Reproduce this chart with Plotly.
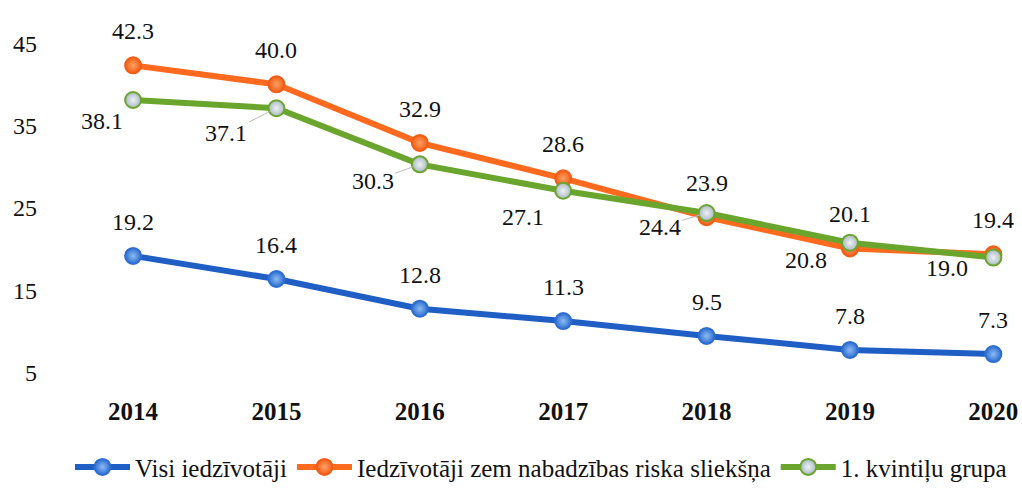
import plotly.graph_objects as go

# Data
years = [2014, 2015, 2016, 2017, 2018, 2019, 2020]
visi = [19.2, 16.4, 12.8, 11.3, 9.5, 7.8, 7.3]
zem_slieksna = [42.3, 40.0, 32.9, 28.6, 23.9, 20.1, 19.4]
kvintile_1 = [38.1, 37.1, 30.3, 27.1, 24.4, 20.8, 19.0]
y_ticks = [5, 15, 25, 35, 45]

names = ["Visi iedzīvotāji",
         "Iedzīvotāji zem nabadzības riska sliekšņa",
         "1. kvintiļu grupa"]

# Label offsets (pixels) for the green series, which sits below/left of its points
green_dx = [-31, -50, -47, -40, -47, -44, -46]
green_dy = [21, 25, 17, 26, 14, 17, 10]
green_leader = [False, True, True, False, True, False, False]

FONT = "Liberation Serif"

fig = go.Figure()

styles = [
    dict(line="#1F5EC4", mk="#2E6ED0", grad="#8CBBF2", edge="#2E6ED0"),
    dict(line="#FF6A1F", mk="#F25E16", grad="#FFA066", edge="#F25E16"),
    dict(line="#6AA52E", mk="#A9B8C2", grad="#EEF2F4", edge="#6AA52E"),
]

for vals, name, st in zip([visi, zem_slieksna, kvintile_1], names, styles):
    fig.add_trace(go.Scatter(
        x=years, y=vals, name=name, mode="lines+markers",
        line=dict(color=st["line"], width=6),
        marker=dict(size=16, color=st["mk"],
                    gradient=dict(type="radial", color=st["grad"]),
                    line=dict(color=st["edge"], width=2)),
        hoverinfo="skip",
    ))

label_font = dict(family=FONT, size=24, color="#111111")

annotations = []
for series in (visi, zem_slieksna):
    for x, v in zip(years, series):
        annotations.append(dict(
            x=x, y=v, text=f"{v:.1f}", showarrow=False, yshift=34,
            font=label_font))

for x, v, dx, dy, lead in zip(years, kvintile_1, green_dx, green_dy, green_leader):
    if lead:
        annotations.append(dict(
            x=x, y=v, text=f"{v:.1f}", showarrow=True, ax=dx, ay=dy,
            arrowhead=0, arrowwidth=1, arrowcolor="#BBBBBB", standoff=7,
            font=label_font))
    else:
        annotations.append(dict(
            x=x, y=v, text=f"{v:.1f}", showarrow=False, xshift=dx, yshift=-dy,
            font=label_font))

fig.update_layout(
    width=1022, height=490,
    margin=dict(l=70, r=10, t=20, b=105, autoexpand=False),
    paper_bgcolor="white", plot_bgcolor="white",
    xaxis=dict(
        range=[2013.56, 2020.13], tickvals=years,
        ticktext=[f"<b>{y}</b>" for y in years],
        tickfont=dict(family=FONT, size=25, color="#111111"),
        showgrid=False, zeroline=False, showline=False, ticks="",
        ticklabelstandoff=9, automargin=False,
    ),
    yaxis=dict(
        range=[3.55, 47.8], tickvals=y_ticks,
        tickfont=dict(family=FONT, size=24, color="#111111"),
        showgrid=False, zeroline=False, showline=False, ticks="",
        ticklabelstandoff=32, automargin=False,
    ),
    showlegend=True,
    legend=dict(
        orientation="h", x=0.5, xanchor="center", y=-0.225, yanchor="middle",
        font=dict(family=FONT, size=25, color="#111111"),
        itemwidth=55, tracegroupgap=0,
    ),
    annotations=annotations,
)

fig.write_html("out.html")
